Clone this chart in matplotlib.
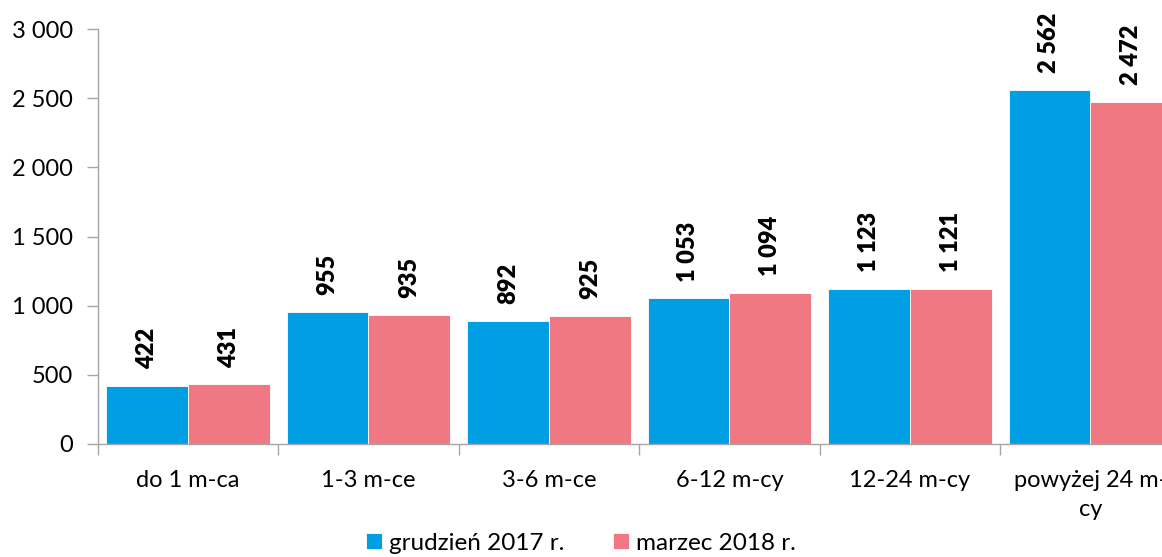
import matplotlib.pyplot as plt
import numpy as np
from matplotlib.ticker import FuncFormatter

plt.rcParams['font.family'] = ['Lato', 'DejaVu Sans']

# bezrobotni wg czasu pozostawania bez pracy
categories = ['do 1 m-ca', '1-3 m-ce', '3-6 m-ce', '6-12 m-cy', '12-24 m-cy', 'powyżej 24 m-\ncy']
grudzien_2017 = [422, 955, 892, 1053, 1123, 2562]
marzec_2018 = [431, 935, 925, 1094, 1121, 2472]
series_names = ['grudzień 2017 r.', 'marzec 2018 r.']

blue = '#009FE3'
pink = '#F07882'


def fmt(v):
    return '{:,}'.format(int(v)).replace(',', ' ')


fig = plt.figure(figsize=(11.62, 5.57), dpi=100)
# axes run a bit past the right edge of the figure
ax = fig.add_axes([0.0841, 0.2029, 0.932, 0.745])

x = np.arange(len(categories))
w = 0.454
b1 = ax.bar(x - w / 2, grudzien_2017, w, color=blue, edgecolor='white', linewidth=0.6, label=series_names[0])
b2 = ax.bar(x + w / 2, marzec_2018, w, color=pink, edgecolor='white', linewidth=0.6, label=series_names[1])

for bars, vals in [(b1, grudzien_2017), (b2, marzec_2018)]:
    for bar, v in zip(bars, vals):
        ax.annotate(fmt(v), (bar.get_x() + bar.get_width() / 2, v),
                    xytext=(0, 12), textcoords='offset points',
                    rotation=90, ha='center', va='bottom',
                    fontsize=17, fontweight='heavy', clip_on=False)

ax.set_xlim(-0.5, len(categories) - 0.5)
ax.set_ylim(0, 3000)
ax.set_yticks(np.arange(0, 3001, 500))
ax.yaxis.set_major_formatter(FuncFormatter(lambda v, p: fmt(v)))

ax.set_xticks(x)
ax.set_xticklabels(categories)
for lbl in ax.get_xticklabels():
    lbl.set_linespacing(1.45)
ax.set_xticks(np.arange(-0.5, len(categories)), minor=True)
ax.tick_params(axis='x', which='major', length=0, pad=19, labelsize=17)
ax.tick_params(axis='x', which='minor', length=8, color='#A6A6A6', width=1)
ax.tick_params(axis='y', length=8, color='#A6A6A6', width=1, labelsize=17, pad=10)

for s in ['top', 'right']:
    ax.spines[s].set_visible(False)
for s in ['left', 'bottom']:
    ax.spines[s].set_color('#A6A6A6')
    ax.spines[s].set_linewidth(1)

fig.legend(handles=[b1, b2], loc='center', bbox_to_anchor=(0.5, 0.025),
           ncol=2, frameon=False, fontsize=17.5, handlelength=0.65, handleheight=0.65,
           handletextpad=0.3, columnspacing=2.0)

fig.savefig('out.png', dpi=100)
